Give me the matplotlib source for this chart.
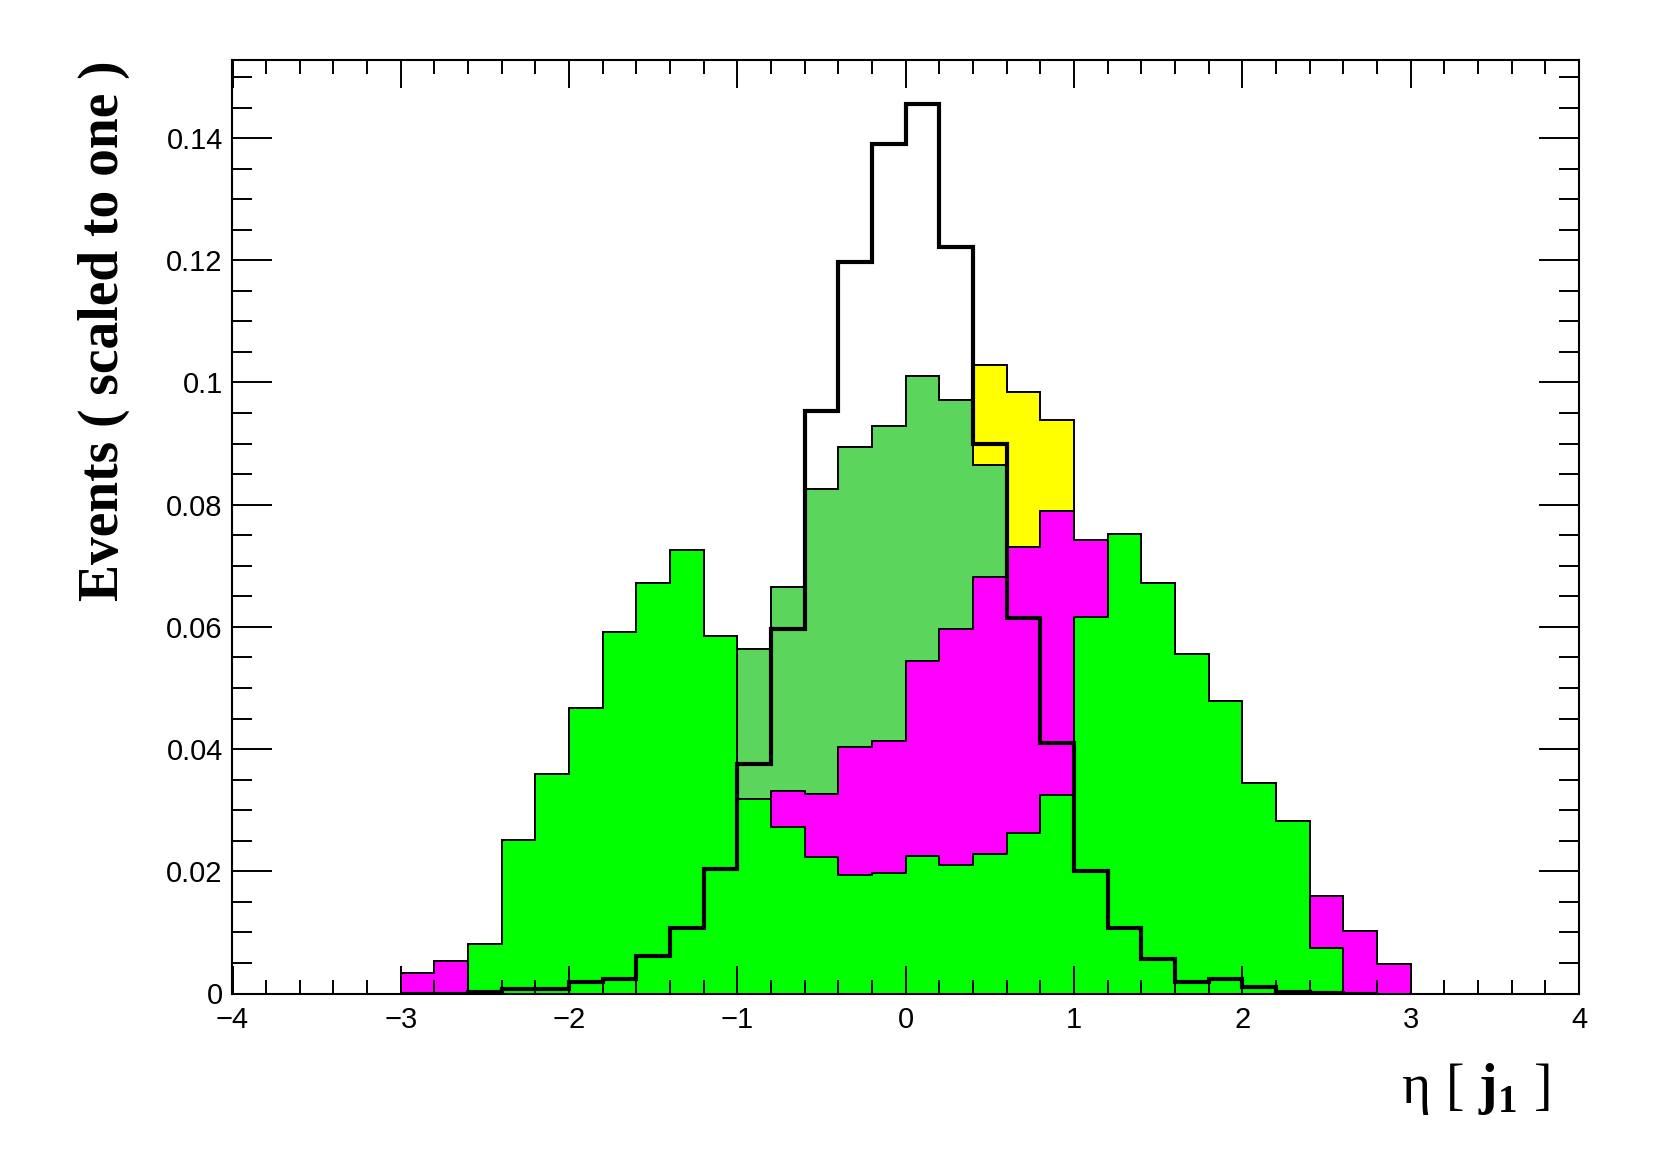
import numpy as np
import matplotlib.pyplot as plt
from matplotlib.ticker import MultipleLocator, FuncFormatter

#--------config begin--------
plt.rcParams['mathtext.fontset'] = 'custom'
plt.rcParams['mathtext.rm'] = 'Liberation Serif'
plt.rcParams['mathtext.bf'] = 'Liberation Serif:bold'
plt.rcParams['font.family'] = ['Liberation Sans', 'DejaVu Sans']

edges = np.linspace(-4, 4, 41)  # 40 bins of 0.2 in eta

# bin contents, scaled to one (bins from -4.0 to 4.0)
yellow = [0, 0, 0, 0, 0, 0, 0, 0, 0, 0,
          0, 0, 0.002, 0.005, 0.012, 0.022, 0.035, 0.050, 0.065, 0.078,
          0.090, 0.092, 0.1028, 0.0985, 0.0939, 0.065, 0.050, 0.030, 0.015, 0.007,
          0.003, 0, 0, 0, 0, 0, 0, 0, 0, 0]
darkgreen = [0, 0, 0, 0, 0, 0, 0, 0, 0, 0.002,
             0.004, 0.009, 0.018, 0.030, 0.045, 0.0563, 0.0666, 0.0825, 0.0895, 0.0929,
             0.1011, 0.0972, 0.0865, 0.060, 0.035, 0.018, 0.008, 0.004, 0.002, 0,
             0, 0, 0, 0, 0, 0, 0, 0, 0, 0]
magenta = [0, 0, 0, 0, 0, 0.0034, 0.0053, 0.006, 0.010, 0.014,
           0.018, 0.022, 0.025, 0.027, 0.029, 0.030, 0.0332, 0.0327, 0.0404, 0.0413,
           0.0544, 0.0597, 0.0682, 0.0731, 0.0790, 0.0743, 0.060, 0.050, 0.040, 0.030,
           0.024, 0.020, 0.0159, 0.0102, 0.0049, 0, 0, 0, 0, 0]
green = [0, 0, 0, 0, 0, 0, 0, 0.0081, 0.0252, 0.0359,
         0.0467, 0.0592, 0.0671, 0.0726, 0.0585, 0.0319, 0.0272, 0.0224, 0.0194, 0.0198,
         0.0225, 0.0211, 0.0228, 0.0262, 0.0325, 0.0616, 0.0752, 0.0671, 0.0555, 0.0478,
         0.0345, 0.0283, 0.0074, 0, 0, 0, 0, 0, 0, 0]
black = [0, 0, 0, 0, 0, 0, 0, 0.0003, 0.0008, 0.0007,
         0.0019, 0.0024, 0.0061, 0.0108, 0.0203, 0.0376, 0.0597, 0.0954, 0.1197, 0.1390,
         0.1455, 0.1222, 0.0900, 0.0614, 0.0410, 0.0201, 0.0108, 0.0057, 0.0019, 0.0024,
         0.0011, 0.0003, 0.0001, 0, 0, 0, 0, 0, 0, 0]
black_bins = slice(5, 34)  # range the line histogram is drawn over

filled = [(yellow, "#ffff00"), (darkgreen, "#5bd55b"), (magenta, "#ff00ff"), (green, "#00ff00")]
#--------config end--------

W, H = 1661, 1169
fig = plt.figure(figsize=(W / 100, H / 100), dpi=100)
ax = fig.add_axes([232.5 / W, 1 - 993.5 / H, (1579 - 232.5) / W, (993.5 - 60) / H])

for vals, col in filled:
  ax.stairs(vals, edges, fill=True, facecolor=col, edgecolor="black", linewidth=1.4)

ax.stairs(np.array(black)[black_bins], edges[black_bins.start:black_bins.stop + 1],
          color="black", linewidth=3.0)

ax.set_xlim(-4, 4)
ax.set_ylim(0, 1.05 * max(black))

ax.xaxis.set_major_locator(MultipleLocator(1))
ax.xaxis.set_minor_locator(MultipleLocator(0.2))
ax.yaxis.set_major_locator(MultipleLocator(0.02))
ax.yaxis.set_minor_locator(MultipleLocator(0.005))
fmt = FuncFormatter(lambda v, p: ("%g" % round(v, 4)).replace("-", "\u2212"))
ax.xaxis.set_major_formatter(fmt)
ax.yaxis.set_major_formatter(fmt)

ax.tick_params(which="both", direction="in", top=True, right=True, width=1.4, labelsize=21)
ax.tick_params(axis="x", which="major", length=20, pad=9)
ax.tick_params(axis="x", which="minor", length=10)
ax.tick_params(axis="y", which="major", length=29, pad=7)
ax.tick_params(axis="y", which="minor", length=14.5)
for s in ax.spines.values():
  s.set_linewidth(1.5)

fig.text(118 / W, 1 - 60 / H, "Events ( scaled to one )", family="Liberation Serif",
         weight="bold", fontsize=40, rotation=90, rotation_mode="anchor",
         ha="right", va="baseline")
fig.text(1550 / W, 1 - 1103 / H, r"$\mathrm{\eta\;[\;}\mathbf{j}_{\mathbf{1}}\mathrm{\;]}$",
         fontsize=40, ha="right", va="baseline")

plt.savefig("out.png", dpi=100)
